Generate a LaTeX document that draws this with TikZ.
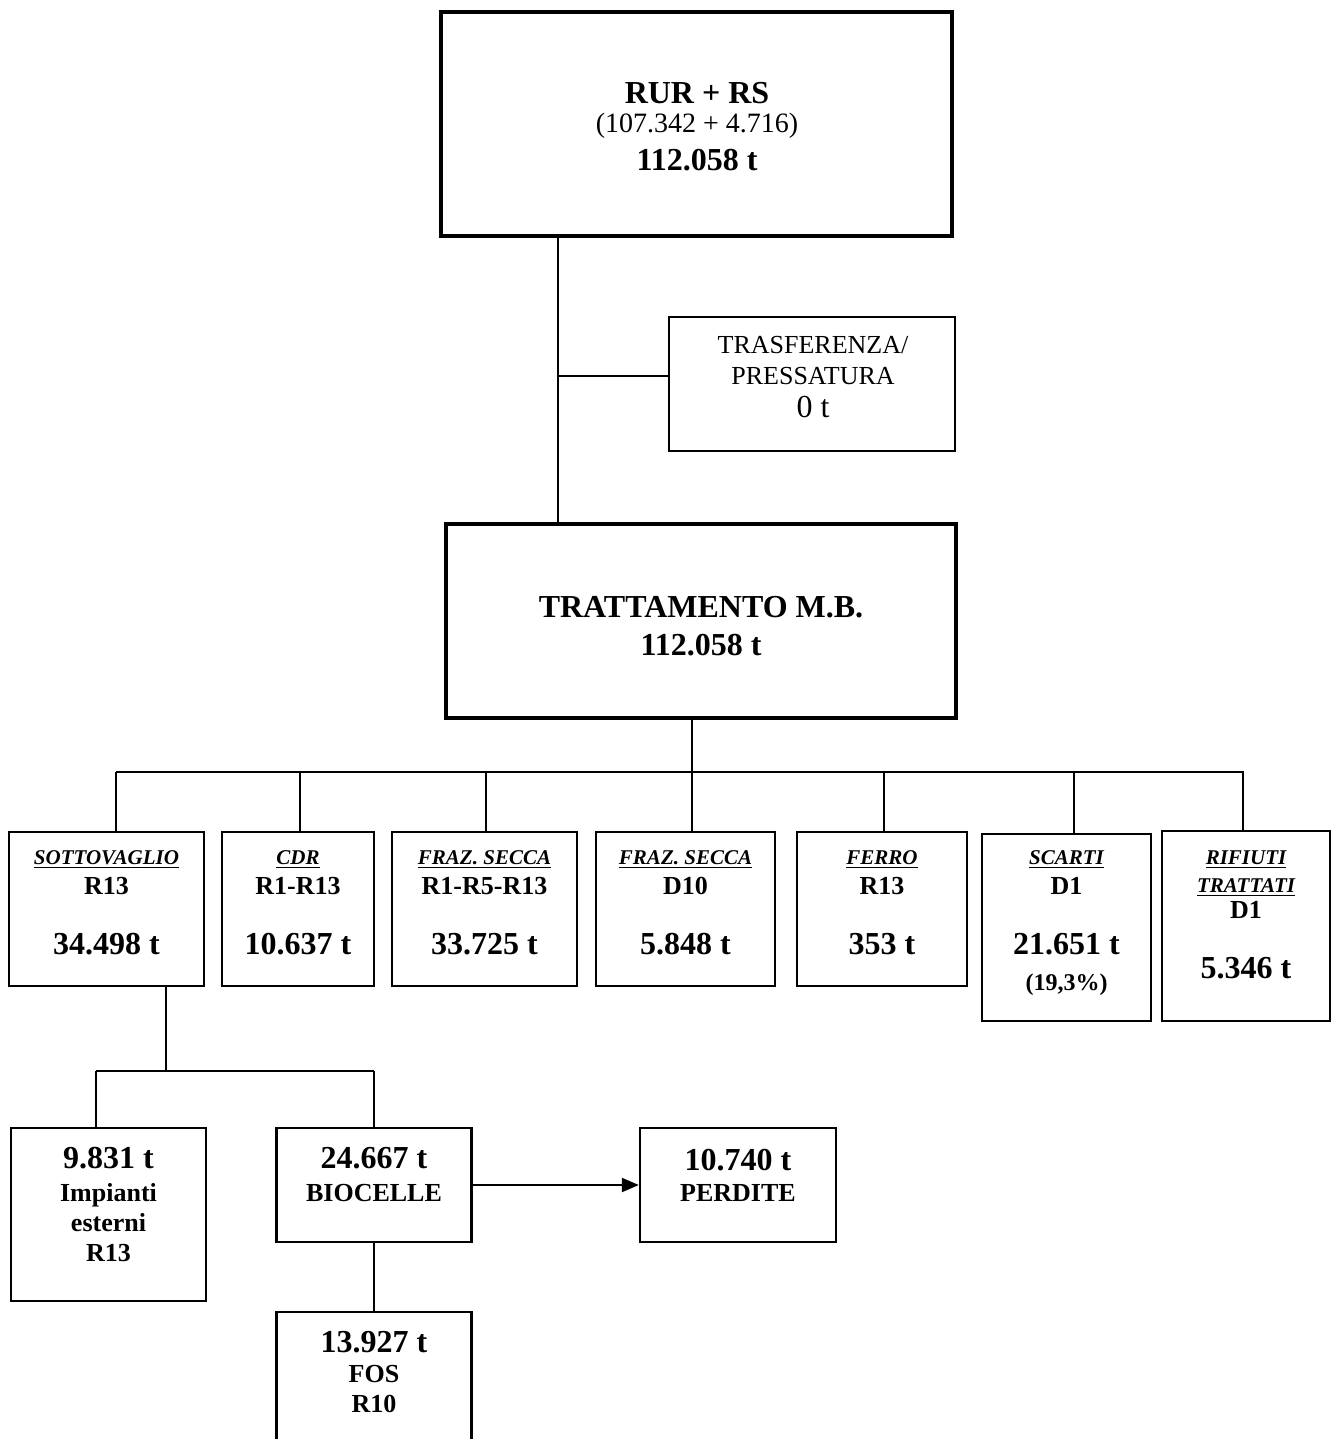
\documentclass[tikz,border=0pt]{standalone}
\usepackage{fontspec}
\setmainfont{Liberation Serif}
\usepackage{tikz}
\usetikzlibrary{arrows.meta}

\newcommand{\ttl}[1]{{\fontsize{10.5}{12}\selectfont\itshape\underline{#1}}}
\newcommand{\amt}[1]{{\fontsize{16}{18}\selectfont #1}}

\tikzset{
  box/.style={draw, line width=1.2pt, inner sep=0pt},
  bigbox/.style={draw, line width=2pt, inner sep=0pt},
  txt/.style={anchor=north, align=center, inner sep=0pt},
  rowtxt/.style={txt, font=\fontsize{13}{15.3}\selectfont\bfseries},
  lowtxt/.style={txt, font=\fontsize{13}{15}\selectfont\bfseries},
  link/.style={line width=1.1pt},
}

\begin{document}
\begin{tikzpicture}[x=0.5pt,y=-0.5pt]
  \path[use as bounding box, clip] (0,0) rectangle (1331,1439);

  % top boxes
  \node[bigbox, minimum width=255.5pt, minimum height=112pt] (rur) at (696.5,124) {};
  \node[txt, font=\fontsize{14}{14.5}\selectfont] (rurt) at (697,82)
    {{\bfseries\fontsize{16}{18}\selectfont RUR + RS}\\(107.342 + 4.716)\\[4.5pt]{\bfseries\fontsize{16}{18}\selectfont 112.058 t}};

  \node[box, line width=0.9pt, minimum width=143pt, minimum height=67pt] (trasf) at (812,384) {};
  \node[txt, font=\fontsize{13}{15.5}\selectfont] (trasft) at (813,336)
    {TRASFERENZA/\\PRESSATURA\\[1pt]{\fontsize{16}{18}\selectfont 0 t}};

  \node[bigbox, minimum width=255pt, minimum height=97pt] (tratt) at (701,621) {};
  \node[txt, font=\fontsize{16}{19}\selectfont\bfseries] (trattt) at (701,596)
    {TRATTAMENTO M.B.\\112.058 t};

  % output boxes
  \node[box, minimum width=97.5pt, minimum height=77pt] (sotto) at (106.5,909) {};
  \node[box, minimum width=76pt, minimum height=77pt] (cdr) at (298,909) {};
  \node[box, minimum width=92.5pt, minimum height=77pt] (secca) at (484.5,909) {};
  \node[box, minimum width=89.5pt, minimum height=77pt] (seccad) at (685.5,909) {};
  \node[box, minimum width=85pt, minimum height=77pt] (ferro) at (882,909) {};
  \node[box, minimum width=84.5pt, minimum height=93.5pt] (scarti) at (1066.5,927.5) {};
  \node[box, minimum width=84pt, minimum height=95pt] (rifiuti) at (1246,926) {};

  \node[rowtxt] (sottot) at (106.5,850) {\ttl{SOTTOVAGLIO}\\R13\\[14.3pt]\amt{34.498 t}};
  \node[rowtxt] (cdrt) at (298,850) {\ttl{CDR}\\R1-R13\\[14.3pt]\amt{10.637 t}};
  \node[rowtxt] (seccat) at (484.5,850) {\ttl{FRAZ. SECCA}\\R1-R5-R13\\[14.3pt]\amt{33.725 t}};
  \node[rowtxt] (seccadt) at (685.5,850) {\ttl{FRAZ. SECCA}\\D10\\[14.3pt]\amt{5.848 t}};
  \node[rowtxt] (ferrot) at (882,850) {\ttl{FERRO}\\R13\\[14.3pt]\amt{353 t}};
  \node[rowtxt] (scartit) at (1066.5,850)
    {\ttl{SCARTI}\\D1\\[14.3pt]\amt{21.651 t}\\[2.7pt]{\fontsize{12}{14}\selectfont (19,3\%)}};
  \node[rowtxt] (rifiutit) at (1246,850)
    {\ttl{RIFIUTI}\\[-1.3pt]\ttl{TRATTATI}\\[-2pt]D1\\[14.7pt]\amt{5.346 t}};

  % sottovaglio branch
  \node[box, minimum width=97.5pt, minimum height=86.5pt] (impianti) at (108.5,1214.5) {};
  \node[box, minimum width=97.5pt, minimum height=57pt] (biocelle) at (374,1185) {};
  \node[box, minimum width=98pt, minimum height=57pt] (perdite) at (738,1185) {};
  \node[box, minimum width=97.5pt, minimum height=79pt] (fos) at (374,1391) {};

  \node[lowtxt] (impiantit) at (108.5,1147) {\amt{9.831 t}\\[1.5pt]Impianti\\esterni\\R13};
  \node[lowtxt] (biocellet) at (374,1147) {\amt{24.667 t}\\[1.5pt]BIOCELLE};
  \node[lowtxt] (perditet) at (738,1149) {\amt{10.740 t}\\[0.4pt]PERDITE};
  \node[lowtxt] (fost) at (374,1331) {\amt{13.927 t}\\FOS\\R10};

  % connectors
  \coordinate (sp) at (558,0);
  \coordinate (tr) at ([yshift=4pt]trasf.west);
  \draw[link] (rur.south -| sp) -- (tratt.north -| sp);
  \draw[link] (tr) -- (tr -| sp);

  \coordinate (busl) at (116,772);
  \coordinate (busr) at (1244,772);
  \draw[link] (busl) -- (busr);
  \draw[link] (tratt.south -| 692,0) -- (busl -| 692,0);
  \foreach \n/\x in {sotto/116,cdr/300,secca/486,seccad/692,ferro/884,scarti/1074,rifiuti/1243}
    \draw[link] (\n.north -| \x,0) -- (busl -| \x,0);

  \coordinate (sub) at (96,1071);
  \draw[link] (sotto.south -| 166,0) -- (sub -| 166,0);
  \draw[link] (sub) -- (sub -| biocelle.north);
  \draw[link] (sub) -- (impianti.north -| sub);
  \draw[link] (sub -| biocelle.north) -- (biocelle.north);
  \draw[link] (biocelle.south) -- (fos.north);
  \draw[link, -{Triangle[length=8.5pt,width=7pt]}] (biocelle.east) -- (perdite.west);
\end{tikzpicture}
\end{document}
